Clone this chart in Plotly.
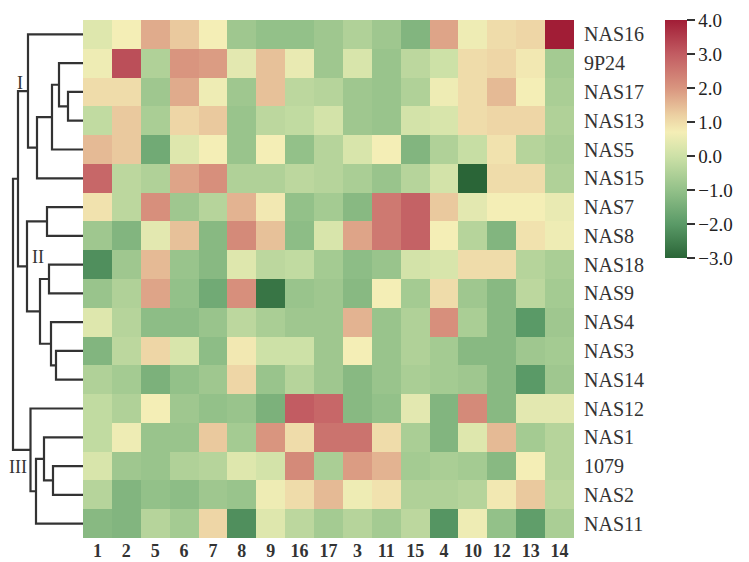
import plotly.graph_objects as go

W, H = 749, 562

col_labels = ["1", "2", "5", "6", "7", "8", "9", "16", "17", "3", "11", "15", "4", "10", "12", "13", "14"]
row_labels = ["NAS16", "9P24", "NAS17", "NAS13", "NAS5", "NAS15", "NAS7", "NAS8", "NAS18",
              "NAS9", "NAS4", "NAS3", "NAS14", "NAS12", "NAS1", "1079", "NAS2", "NAS11"]

v_NAS16 = [0.3, 0.7, 1.7, 1.3, 0.7, -0.8, -1.0, -1.0, -0.8, -0.5, -0.8, -1.3, 1.8, 0.6, 1.0, 1.1, 4.0]
v_9P24 = [0.6, 3.2, -0.5, 2.0, 1.9, 0.4, 1.4, 0.5, -0.8, 0.2, -0.9, -0.3, 0.0, 1.0, 1.1, 0.8, -0.7]
v_NAS17 = [1.0, 1.0, -0.8, 1.7, 0.6, -0.8, 1.4, -0.3, -0.4, -0.8, -0.9, -0.5, 0.6, 1.0, 1.5, 0.7, -0.6]
v_NAS13 = [-0.2, 1.3, -0.6, 1.1, 1.3, -0.9, -0.3, -0.2, 0.1, -0.8, -0.9, 0.1, 0.2, 1.0, 1.1, 1.1, -0.5]
v_NAS5 = [1.5, 1.3, -1.6, 0.3, 0.7, -0.9, 0.7, -1.0, -0.4, 0.2, 0.7, -1.3, -0.5, -0.1, 0.9, -0.4, -0.6]
v_NAS15 = [2.8, -0.3, -0.5, 1.8, 2.1, -0.5, -0.5, -0.3, -0.4, -0.6, -0.9, -0.4, 0.1, -3.0, 1.0, 1.0, -0.5]
v_NAS7 = [0.9, -0.3, 2.1, -0.8, -0.4, 1.6, 0.8, -1.0, -0.7, -1.2, 2.5, 2.9, 1.3, 0.4, 0.7, 0.7, 0.5]
v_NAS8 = [-0.8, -1.3, 0.4, 1.4, -1.2, 2.2, 1.4, -1.1, 0.2, 1.8, 2.5, 2.9, 0.7, -0.4, -1.3, 0.9, 0.6]
v_NAS18 = [-2.2, -0.8, 1.5, -0.9, -1.2, 0.3, -0.3, -0.2, -0.7, -1.1, -0.9, 0.1, 0.2, 1.0, 1.0, -0.4, -0.6]
v_NAS9 = [-0.9, -0.5, 1.8, -1.0, -1.6, 2.1, -2.7, -0.9, -0.8, -1.2, 0.7, -0.7, 1.0, -0.8, -1.2, -0.3, -0.7]
v_NAS4 = [0.3, -0.4, -1.1, -1.1, -0.9, -0.3, -0.6, -0.8, -0.8, 1.6, -0.9, -0.5, 2.1, -0.6, -1.2, -2.0, -0.8]
v_NAS3 = [-1.3, -0.3, 1.1, 0.2, -1.1, 0.8, 0.0, 0.0, -0.8, 0.7, -0.9, -0.5, -0.7, -1.2, -1.2, -0.8, -0.7]
v_NAS14 = [-0.5, -0.7, -1.4, -1.0, -0.8, 1.1, -0.9, -0.4, -0.8, -1.2, -0.9, -0.6, -0.7, -0.8, -1.2, -2.0, -0.8]
v_NAS12 = [-0.2, -0.5, 0.7, -0.8, -1.0, -0.9, -1.4, 3.0, 2.8, -1.2, -1.0, 0.4, -1.3, 2.2, -1.2, 0.4, 0.4]
v_NAS1 = [-0.2, 0.6, -0.9, -0.9, 1.3, -0.7, 2.0, 1.0, 2.6, 2.6, 1.0, -0.6, -1.3, 0.3, 1.5, -0.7, -0.4]
v_1079 = [0.2, -0.8, -0.9, -0.5, -0.4, 0.3, 0.1, 2.2, -0.6, 1.9, 1.6, -0.7, -0.6, -0.7, -1.2, 0.7, -0.4]
v_NAS2 = [-0.4, -1.3, -1.0, -1.1, -0.8, -0.9, 0.6, 1.0, 1.5, 0.6, 0.9, -0.5, -0.5, -0.4, 0.8, 1.3, -0.3]
v_NAS11 = [-1.2, -1.3, -0.4, -0.7, 1.1, -2.2, 0.3, -0.3, -0.7, -0.4, -0.7, -0.3, -2.1, 0.6, -1.0, -1.9, -0.6]

values = [v_NAS16, v_9P24, v_NAS17, v_NAS13, v_NAS5, v_NAS15, v_NAS7, v_NAS8, v_NAS18,
          v_NAS9, v_NAS4, v_NAS3, v_NAS14, v_NAS12, v_NAS1, v_1079, v_NAS2, v_NAS11]

# dendrogram: (height, left, right); leaves are row names
cluster_I = (55, "NAS16", (46, (31, (24, "9P24", (15, "NAS17", "NAS13")), "NAS5"), "NAS15"))
cluster_II = (56, (36, "NAS7", "NAS8"), (43, (34, "NAS18", "NAS9"), (32, "NAS4", (27, "NAS3", "NAS14"))))
cluster_III = (52.5, "NAS12", (47, (39, "NAS1", (30, "1079", "NAS2")), "NAS11"))
tree = (70, (65, cluster_I, cluster_II), cluster_III)

cluster_names = ["I", "II", "III"]
cluster_label_pos = [(63, 1.7), (45, 7.75), (65.5, 15.05)]

colorscale = [
    [0.0, "#2a6537"], [1 / 7, "#5a9a67"], [2 / 7, "#93c189"], [3 / 7, "#cde1a7"],
    [3.7 / 7, "#f4eeb6"], [4.2 / 7, "#ecd0a2"], [5 / 7, "#d9957f"], [6 / 7, "#c25c62"],
    [1.0, "#a11d36"],
]

lx, ly = [], []


def walk(node):
    if isinstance(node, str):
        return row_labels.index(node), 0.0
    h, a, b = node
    ya, ha = walk(a)
    yb, hb = walk(b)
    lx.extend([ha, h, h, hb, None])
    ly.extend([ya, ya, yb, yb, None])
    return (ya + yb) / 2, h


walk(tree)

serif = "Times New Roman, Liberation Serif, Times, serif"

fig = go.Figure()
fig.add_trace(go.Heatmap(
    z=values, x=list(range(len(col_labels))), y=list(range(len(row_labels))),
    colorscale=colorscale, zmin=-3, zmax=4,
    colorbar=dict(
        x=665 / W, xanchor="left", y=1 - 20 / H, yanchor="top",
        len=238 / H, lenmode="fraction", thickness=22, thicknessmode="pixels",
        outlinewidth=0, tickmode="linear", tick0=-3, dtick=1, tickformat=".1f",
        ticks="outside", ticklen=8, tickwidth=2, tickcolor="#333",
        tickfont=dict(family=serif, size=19, color="#222"), xpad=0, ypad=0,
    ),
    xaxis="x", yaxis="y",
))
fig.add_trace(go.Scatter(x=lx, y=ly, mode="lines", line=dict(color="#333", width=2.2),
                         xaxis="x2", yaxis="y", hoverinfo="skip", showlegend=False))

for name, (hx, hy) in zip(cluster_names, cluster_label_pos):
    fig.add_annotation(x=hx, y=hy, xref="x2", yref="y", text=name, showarrow=False,
                       font=dict(family=serif, size=18, color="#333"))

fig.update_layout(
    width=W, height=H, margin=dict(l=0, r=0, t=0, b=0),
    paper_bgcolor="white", plot_bgcolor="white", showlegend=False,
    xaxis=dict(domain=[83 / W, 574 / W], range=[-0.5, len(col_labels) - 0.5],
               tickmode="array", tickvals=list(range(len(col_labels))),
               ticktext=["<b>%s</b>" % c for c in col_labels],
               tickfont=dict(family=serif, size=18, color="#333"),
               showgrid=False, zeroline=False, ticks="", anchor="y"),
    yaxis=dict(domain=[1 - 538 / H, 1 - 20 / H], range=[len(row_labels) - 0.5, -0.5],
               tickmode="array", tickvals=list(range(len(row_labels))), ticktext=row_labels,
               side="right", anchor="x", ticklabelstandoff=9,
               tickfont=dict(family=serif, size=20, color="#333"),
               showgrid=False, zeroline=False, ticks=""),
    xaxis2=dict(domain=[0, 83 / W], range=[83, 0], visible=False, anchor="y"),
)

fig.write_html("out.html")
